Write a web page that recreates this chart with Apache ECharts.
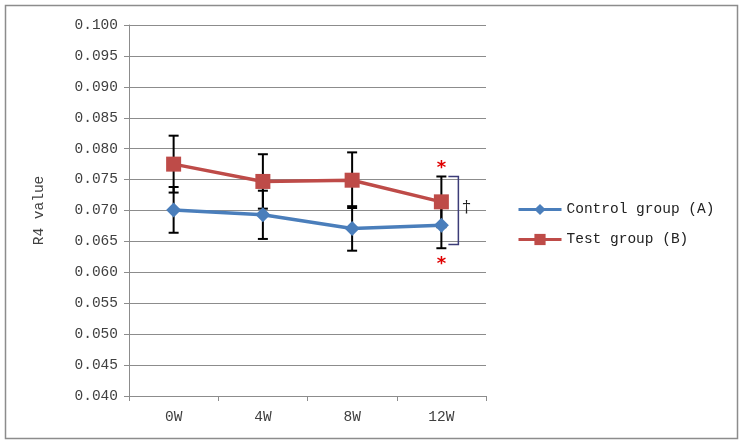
<!DOCTYPE html>
<html><head><meta charset="utf-8">
<script src="https://cdn.jsdelivr.net/npm/echarts@6/dist/echarts.min.js"></script>
<style>html,body{margin:0;padding:0;background:#fff}#c{width:739px;height:445px}</style>
</head><body><div id="c"></div>
<script>
var categories = ['0W', '4W', '8W', '12W'];
var controlMean = [0.0701, 0.0693, 0.0671, 0.0676];
var controlSD = [0.0037, 0.0039, 0.0036, 0.0037];
var testMean = [0.0775, 0.0747, 0.0749, 0.0714];
var testSD = [0.0046, 0.0044, 0.0045, 0.0041];
var yTicks = { min: 0.040, max: 0.100, step: 0.005 };
// significance annotation at 12W: bracket range, star positions
var bracketRange = [3, 0.0755, 0.0645];
var starValues = [0.0769, 0.0613];
var daggerValue = 0.0704;

var FONT = 'Liberation Mono';
var chart = echarts.init(document.getElementById('c'));

function errData(mean, sd) {
  return mean.map(function (m, i) { return [i, m - sd[i], m + sd[i]]; });
}
function errRender(params, api) {
  var x = api.value(0);
  var lo = api.coord([x, api.value(1)]);
  var hi = api.coord([x, api.value(2)]);
  var w = 5;
  var st = { stroke: '#000', lineWidth: 2 };
  return { type: 'group', children: [
    { type: 'line', shape: { x1: lo[0], y1: lo[1], x2: hi[0], y2: hi[1] }, style: st },
    { type: 'line', shape: { x1: lo[0] - w, y1: lo[1], x2: lo[0] + w, y2: lo[1] }, style: st },
    { type: 'line', shape: { x1: hi[0] - w, y1: hi[1], x2: hi[0] + w, y2: hi[1] }, style: st }
  ]};
}

var option = {
  backgroundColor: '#fff',
  animation: false,
  graphic: [{ type: 'rect', left: 3, top: 3, shape: { width: 732, height: 433 }, style: { fill: null, stroke: '#8c8c8c', lineWidth: 1.5 } }],
  grid: { left: 129, right: 253, top: 25, bottom: 49 },
  legend: {
    orient: 'vertical', left: 512, top: 197, itemWidth: 43, itemHeight: 14, itemGap: 15,
    lineStyle: { width: 3 },
    textStyle: { fontFamily: FONT, fontSize: 14.5, color: '#222' },
    data: ['Control group (A)', 'Test group (B)']
  },
  xAxis: {
    type: 'category', data: categories, boundaryGap: true,
    axisLine: { lineStyle: { color: '#8c8c8c', width: 1 } },
    axisTick: { show: true, length: 5, lineStyle: { color: '#8c8c8c' } },
    axisLabel: { fontFamily: FONT, fontSize: 14.5, color: '#404040', margin: 14 }
  },
  yAxis: {
    type: 'value', min: yTicks.min, max: yTicks.max, interval: yTicks.step,
    name: 'R4 value', nameLocation: 'middle', nameGap: 82, nameRotate: 90,
    nameTextStyle: { fontFamily: FONT, fontSize: 14.5, color: '#404040' },
    axisLine: { show: true, lineStyle: { color: '#8c8c8c', width: 1 } },
    axisTick: { show: true, length: 5, lineStyle: { color: '#8c8c8c' } },
    axisLabel: { fontFamily: FONT, fontSize: 14.5, color: '#404040', margin: 11,
      formatter: function (v) { return v.toFixed(3); } },
    splitLine: { lineStyle: { color: '#8c8c8c', width: 1 } }
  },
  series: [
    { name: 'Control group (A)', type: 'line', data: controlMean, symbol: 'diamond', symbolSize: 15,
      itemStyle: { color: '#4a7ebb' }, lineStyle: { color: '#4a7ebb', width: 3.5 }, z: 3 },
    { name: 'Test group (B)', type: 'line', data: testMean, symbol: 'rect', symbolSize: 15,
      itemStyle: { color: '#be4b48' }, lineStyle: { color: '#be4b48', width: 3.5 }, z: 3 },
    { type: 'custom', data: errData(controlMean, controlSD), renderItem: errRender, z: 2, silent: true },
    { type: 'custom', data: errData(testMean, testSD), renderItem: errRender, z: 2, silent: true },
    { type: 'custom', data: [bracketRange], z: 4, silent: true,
      renderItem: function (params, api) {
        var x = api.value(0);
        var top = api.coord([x, api.value(1)]);
        var bot = api.coord([x, api.value(2)]);
        var bx = top[0] + 17;
        var s1 = api.coord([x, starValues[0]]);
        var s2 = api.coord([x, starValues[1]]);
        var d = api.coord([x, daggerValue]);
        var st = { stroke: '#3c3c78', lineWidth: 1.5, fill: null };
        return { type: 'group', children: [
          { type: 'polyline', shape: { points: [[top[0] + 7, top[1]], [bx, top[1]], [bx, bot[1]], [bot[0] + 7, bot[1]]] }, style: st },
          { type: 'text', x: s1[0], y: s1[1], style: { text: '*', fill: '#e00000', font: 'bold 18px DejaVu Sans', align: 'center', verticalAlign: 'middle' } },
          { type: 'text', x: s2[0], y: s2[1], style: { text: '*', fill: '#e00000', font: 'bold 18px DejaVu Sans', align: 'center', verticalAlign: 'middle' } },
          { type: 'text', x: bx + 8, y: d[1], style: { text: '†', fill: '#222', font: '16px DejaVu Serif', align: 'center', verticalAlign: 'middle' } }
        ]};
      }
    }
  ]
};
chart.setOption(option);
</script>
</body></html>
